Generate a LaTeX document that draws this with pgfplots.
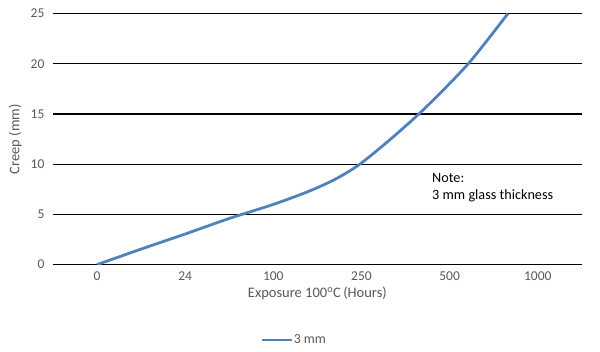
\documentclass[border=0pt]{standalone}
\usepackage{pgfplots}
\pgfplotsset{compat=1.18}
\usepackage{fontspec}
\setmainfont{Carlito}
\definecolor{txt}{RGB}{89,89,89}
\definecolor{ser}{RGB}{79,129,189}
\begin{document}
\begin{tikzpicture}[x=1pt,y=1pt]
\useasboundingbox (0,0) rectangle (600,351);
\begin{axis}[
  at={(60,86)}, anchor=south west,
  scale only axis, width=529pt, height=251pt,
  xmin=-0.5, xmax=5.5, ymin=0, ymax=25,
  xtick={0,1,2,3,4,5}, xticklabels={0,24,100,250,500,1000},
  ytick={0,5,10,15,20,25},
  axis line style={draw=none},
  major tick length=0pt,
  ymajorgrids, grid style={black, line width=1.2pt},
  tick label style={font=\fontsize{13.5}{15}\selectfont, text=txt},
  /pgf/number format/assume math mode=true,
  xticklabel style={yshift=-4pt},
  yticklabel style={xshift=-5pt},
  xlabel={Exposure 100\textsuperscript{o}C\,(Hours)},
  ylabel={Creep (mm)},
  label style={font=\fontsize{14.5}{16}\selectfont, text=txt},
  xlabel style={yshift=1pt},
  ylabel style={yshift=2pt},
  legend style={at={(0.455,-0.30)}, anchor=center, draw=none, font=\fontsize{13.8}{15}\selectfont, text=txt,
    /tikz/every even column/.append style={column sep=0pt}, inner xsep=0pt},
  legend cell align=left,
  legend image code/.code={\draw[#1, line width=2.5pt] (0pt,0pt) -- (30pt,0pt);},
]
\addplot[ser, line width=2.8pt, smooth] coordinates {
(0,0) (0.5,1.55) (1,3.05) (1.5,4.6) (2,6.0) (2.4,7.3) (2.7,8.5) (2.98,10)
(3.33,12.5) (3.65,15) (3.94,17.5) (4.21,20) (4.44,22.5) (4.66,25)
};
\addlegendentry[inner xsep=1pt]{3 mm}
\node[anchor=north west, align=left, inner sep=0pt, font=\fontsize{14.2}{17}\selectfont, text=black] at (axis cs:3.80,9.1) {Note:\\3 mm glass thickness};
\end{axis}
\end{tikzpicture}
\end{document}
